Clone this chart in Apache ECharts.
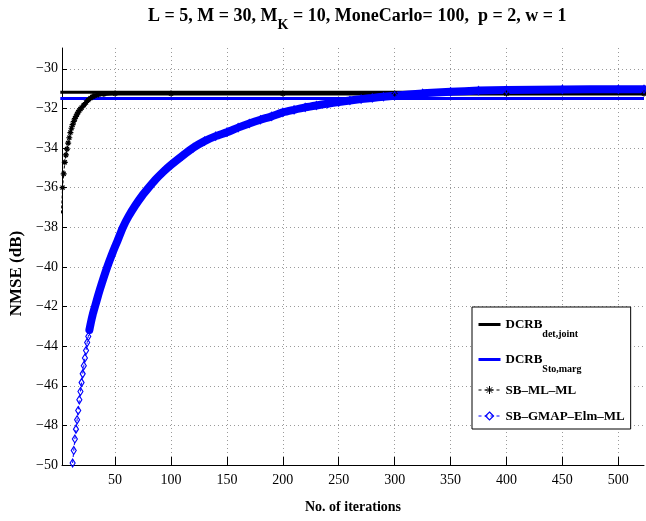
<!DOCTYPE html>
<html><head><meta charset="utf-8">
<script src="https://cdn.jsdelivr.net/npm/echarts@6/dist/echarts.min.js"></script>
<style>html,body{margin:0;padding:0;background:#fff}#c{width:646px;height:521px}</style>
</head><body><div id="c"></div>
<script>
// ---- data ----
const xTicks = [50, 100, 150, 200, 250, 300, 350, 400, 450, 500];
const yTicks = [-50, -48, -46, -44, -42, -40, -38, -36, -34, -32, -30];

const dcrbIter = [1, 523];
const dcrbDetJoint = [-31.19, -31.19];
const dcrbStoMarg = [-31.5, -31.5];

const sbmlIter = [2, 3, 4, 5, 6, 7, 8, 9, 10, 11, 12, 13, 14, 15, 16, 17, 18, 19, 20,
  22, 24, 26, 28, 30, 32, 35, 40, 50, 100, 200, 300, 400, 523];
const sbmlVal = [-37.3, -36.0, -35.3, -34.72, -34.35, -34.05, -33.75, -33.48, -33.22, -33.0,
  -32.82, -32.66, -32.52, -32.4, -32.29, -32.19, -32.1, -32.03, -31.96,
  -31.83, -31.7, -31.58, -31.48, -31.4, -31.35, -31.3, -31.27, -31.25, -31.25, -31.25, -31.25, -31.25, -31.25];

const gmapIter = [12, 13, 14, 15, 16, 17, 18, 19, 20, 21, 22, 23, 24, 25, 26, 27, 28, 29, 30,
  32, 35, 38, 43, 48, 52, 57, 62, 68, 74, 80, 86, 93, 100, 110, 120, 130, 140, 150, 160, 170,
  180, 190, 200, 210, 220, 230, 240, 250, 260, 270, 280, 290, 300, 325, 350, 375, 400, 450, 500, 523];
const gmapVal = [-49.9, -49.27, -48.69, -48.19, -47.72, -47.25, -46.71, -46.29, -45.84, -45.4,
  -44.99, -44.6, -44.22, -43.82, -43.51, -43.18, -42.9, -42.64, -42.4,
  -42.0, -41.4, -40.85, -40.0, -39.25, -38.7, -38.0, -37.45, -36.9, -36.42, -36.0, -35.6, -35.2,
  -34.85, -34.4, -33.98, -33.65, -33.4, -33.2, -32.97, -32.76,
  -32.57, -32.4, -32.2, -32.07, -31.95, -31.85, -31.76, -31.68, -31.6, -31.53, -31.47, -31.41,
  -31.36, -31.24, -31.16, -31.1, -31.07, -31.04, -31.03, -31.03];

// ---- chart ----
const FONT = 'Liberation Serif';
const BLUE = '#0000ff';
const STAR = 'path://M5,0L5,10M0,5L10,5M1.6,1.6L8.4,8.4M8.4,1.6L1.6,8.4';
function pairs(xs, ys) { return xs.map((x, i) => [x, ys[i]]); }
const sbmlData = pairs(sbmlIter, sbmlVal);
const sbmlBand = sbmlData.filter(p => p[0] >= 20);
const gmapData = pairs(gmapIter, gmapVal);
const gmapBand = gmapData.filter(p => p[0] >= 27);
const minusFmt = v => (v < 0 ? '\u2212' + Math.abs(v) : String(v));

const chart = echarts.init(document.getElementById('c'), null, {renderer: 'canvas'});
chart.setOption({
  animation: false,
  backgroundColor: '#fff',
  title: {
    text: '{t|L = 5, M = 30, M}{k|K}{t| = 10, MoneCarlo= 100,  p = 2, w = 1}',
    left: 148, top: 0, padding: 0,
    textStyle: {
      rich: {
        t: {fontFamily: FONT, fontWeight: 'bold', fontSize: 18, color: '#000'},
        k: {fontFamily: FONT, fontWeight: 'bold', fontSize: 14, color: '#000', padding: [18, 0, 0, 0]}
      }
    }
  },
  grid: {left: 58, top: 48, right: 2, bottom: 56, containLabel: false},
  xAxis: {
    type: 'value', min: 2.5, max: 523,
    name: 'No. of iterations', nameLocation: 'middle', nameGap: 35,
    nameTextStyle: {fontFamily: FONT, fontWeight: 'bold', fontSize: 14, color: '#000'},
    axisLine: {show: true, onZero: false, lineStyle: {color: '#000', width: 1}},
    axisTick: {show: true, inside: true, length: 8, customValues: xTicks, lineStyle: {color: '#000'}},
    axisLabel: {customValues: xTicks, color: '#000', fontFamily: FONT, fontSize: 14, margin: 8},
    splitLine: {show: true, lineStyle: {color: '#9a9a9a', type: [1, 3], width: 1}}
  },
  yAxis: {
    type: 'value', min: -50, max: -28.95,
    name: 'NMSE (dB)', nameLocation: 'middle', nameGap: 37, nameRotate: 90,
    nameTextStyle: {fontFamily: FONT, fontWeight: 'bold', fontSize: 17, color: '#000', padding: [0, 34, 0, 0]},
    axisLine: {show: true, onZero: false, lineStyle: {color: '#000', width: 1}},
    axisTick: {show: true, inside: true, length: 5, customValues: yTicks, lineStyle: {color: '#000'}},
    axisLabel: {customValues: yTicks, color: '#000', fontFamily: FONT, fontSize: 14, margin: 4, formatter: minusFmt},
    splitLine: {show: true, lineStyle: {color: '#9a9a9a', type: [1, 3], width: 1}}
  },
  legend: {
    orient: 'vertical', left: 472, top: 307,
    padding: [3, 6, 3, 5], itemGap: 6, itemWidth: 22, itemHeight: 10,
    borderColor: '#000', borderWidth: 1, backgroundColor: '#fff',
    selectedMode: false,
    data: [
      {name: 'DCRB_det', itemStyle: {opacity: 0}, lineStyle: {color: '#000', width: 3, type: 'solid'}},
      {name: 'DCRB_sto', itemStyle: {opacity: 0}, lineStyle: {color: BLUE, width: 3, type: 'solid'}},
      {name: 'SB-ML-ML', itemStyle: {color: '#000', borderColor: '#000', borderWidth: 1}, lineStyle: {color: '#000', width: 1, type: [3, 3]}},
      {name: 'SB-GMAP-Elm-ML', itemStyle: {color: 'transparent', borderColor: BLUE, borderWidth: 1.2}, lineStyle: {color: BLUE, width: 1, type: [3, 3]}}
    ],
    formatter: function (name) {
      if (name === 'DCRB_det') return '{m|DCRB}{s|det,joint}';
      if (name === 'DCRB_sto') return '{m|DCRB}{s|Sto,marg}';
      if (name === 'SB-ML-ML') return '{n|SB\u2013ML\u2013ML}';
      return '{n|SB\u2013GMAP\u2013Elm\u2013ML}';
    },
    textStyle: {
      fontFamily: FONT, fontWeight: 'bold', fontSize: 13, color: '#000',
      rich: {
        m: {fontFamily: FONT, fontWeight: 'bold', fontSize: 13, color: '#000'},
        s: {fontFamily: FONT, fontWeight: 'bold', fontSize: 10, color: '#000', lineHeight: 10, padding: [19, 0, 0, 0]},
        n: {fontFamily: FONT, fontWeight: 'bold', fontSize: 13, color: '#000', lineHeight: 14, padding: [4, 0, 3, 0]}
      }
    }
  },
  series: [
    {name: 'DCRB_det', type: 'line', data: pairs(dcrbIter, dcrbDetJoint), symbol: 'none',
      lineStyle: {color: '#000', width: 3}, itemStyle: {color: '#000'}},
    {name: 'DCRB_sto', type: 'line', data: pairs(dcrbIter, dcrbStoMarg), symbol: 'none',
      lineStyle: {color: BLUE, width: 3}, itemStyle: {color: BLUE}},
    {name: 'sbmlBand', type: 'line', data: sbmlBand, symbol: 'none',
      lineStyle: {color: '#000', width: 4, cap: 'round'}, itemStyle: {color: '#000'}},
    {name: 'SB-ML-ML', type: 'line', data: sbmlData, symbol: STAR, symbolSize: 6,
      showAllSymbol: true, lineStyle: {color: '#000', width: 1, type: [3, 2]},
      itemStyle: {color: '#000', borderColor: '#000', borderWidth: 1.2}},
    {name: 'gmapBand', type: 'line', data: gmapBand, symbol: 'none', smooth: 0.2,
      lineStyle: {color: BLUE, width: 8, cap: 'round'}, itemStyle: {color: BLUE}},
    {name: 'SB-GMAP-Elm-ML', type: 'line', data: gmapData, symbol: 'diamond', symbolSize: [5, 8],
      showAllSymbol: true, lineStyle: {color: BLUE, width: 1, type: [3, 3]},
      itemStyle: {color: 'transparent', borderColor: BLUE, borderWidth: 1.2}}
  ]
});
</script></body></html>
